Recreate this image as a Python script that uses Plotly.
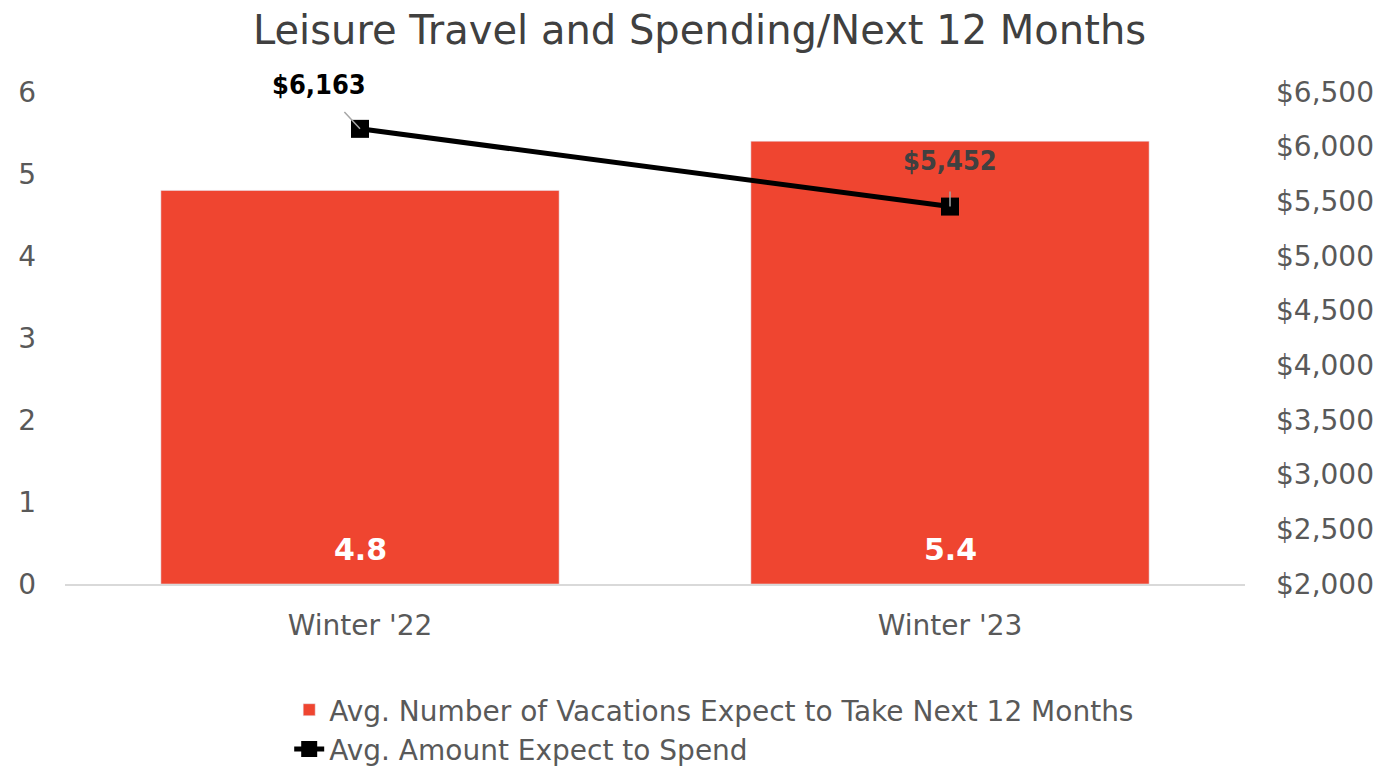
import plotly.graph_objects as go

categories = ["Winter '22", "Winter '23"]
vacations = [4.8, 5.4]
spend = [6163, 5452]
spend_labels = ["$6,163", "$5,452"]
right_ticks = [2000, 2500, 3000, 3500, 4000, 4500, 5000, 5500, 6000, 6500]
right_tick_text = ["$2,000", "$2,500", "$3,000", "$3,500", "$4,000", "$4,500", "$5,000", "$5,500", "$6,000", "$6,500"]

FONT = "DejaVu Sans"
BOLD = "DejaVu Sans Condensed"
GRAY = "#595959"

fig = go.Figure()
fig.add_trace(go.Bar(
    x=categories, y=vacations, name="Avg. Number of Vacations Expect to Take Next 12 Months",
    marker_color="#EF4530", width=0.675,
))
fig.add_trace(go.Scatter(
    x=categories, y=spend, yaxis="y2", name="Avg. Amount Expect to Spend",
    mode="lines+markers", line=dict(color="black", width=5),
    marker=dict(symbol="square", size=18, color="black"),
))

# bar value labels near the base of each bar
for c, v in zip(categories, vacations):
    fig.add_annotation(
        x=c, y=0, xref="x", yref="y", text=f"<b>{v:.1f}</b>", showarrow=False,
        yanchor="middle", yshift=35,
        font=dict(family=FONT, size=30, color="white"),
    )

label_colors = ["black", "#404040"]
label_offsets = [(-41, -44), (0, -46)]
for c, v, t, col, (ax, ay) in zip(categories, spend, spend_labels, label_colors, label_offsets):
    fig.add_annotation(
        x=c, y=v, xref="x", yref="y2", text=f"<b>{t}</b>", showarrow=True,
        arrowhead=0, arrowcolor="#A6A6A6", arrowwidth=1.5, ax=ax, ay=ay,
        font=dict(family=BOLD, size=27, color=col), standoff=0, startstandoff=14,
    )

fig.update_layout(
    width=1383, height=758,
    margin=dict(l=57, r=146, t=84, b=182, autoexpand=False),
    paper_bgcolor="white", plot_bgcolor="white",
    title=dict(text="Leisure Travel and Spending/Next 12 Months", x=0.5, xanchor="center",
               y=0.971, yanchor="middle", automargin=False,
               font=dict(family=FONT, size=40, color="#404040")),
    font=dict(family=FONT, color=GRAY),
    xaxis=dict(showline=True, linecolor="#D9D9D9", linewidth=1.5, ticks="", automargin=False,
               tickfont=dict(size=28, color=GRAY), showgrid=False, ticklabelstandoff=16),
    yaxis=dict(range=[0, 6], dtick=1, showgrid=False, zeroline=False, automargin=False,
               tickfont=dict(size=28, color=GRAY), ticklabelstandoff=28),
    yaxis2=dict(range=[2000, 6500], overlaying="y", side="right", tickvals=right_ticks,
                ticktext=right_tick_text, showgrid=False, zeroline=False, automargin=False,
                tickfont=dict(size=28, color=GRAY), ticklabelstandoff=30),
    legend=dict(orientation="v", x=0.19, xanchor="left", y=-0.2053, yanchor="top",
                font=dict(family=FONT, size=28, color=GRAY), tracegroupgap=0,
                itemwidth=30),
    showlegend=True,
)
fig.write_html("out.html")
